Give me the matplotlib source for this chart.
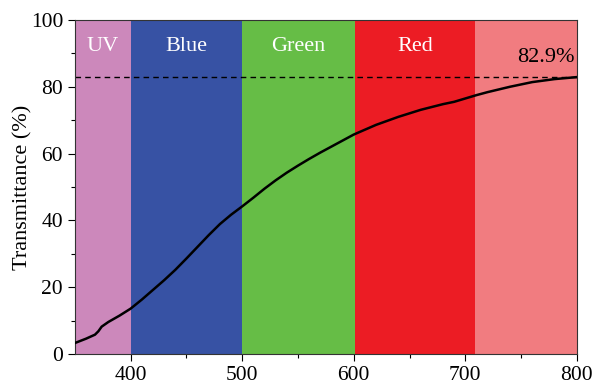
import matplotlib
matplotlib.use("Agg")
import matplotlib.pyplot as plt
import numpy as np

plt.rcParams["font.family"] = ["Liberation Serif", "DejaVu Serif"]

# transmittance curve
wavelength = [350, 360, 368, 371, 374, 380, 390, 400, 410, 420, 430, 440, 450, 460, 470,
              480, 490, 500, 510, 520, 530, 540, 550, 560, 570, 580, 590, 600, 620, 640,
              660, 680, 690, 700, 710, 720, 740, 760, 780, 800]
transmittance = [3.3, 4.6, 5.8, 6.8, 8.2, 9.6, 11.5, 13.6, 16.3, 19.2, 22.1, 25.2, 28.6, 32.1, 35.6,
                 38.9, 41.7, 44.2, 46.8, 49.5, 52.0, 54.3, 56.4, 58.4, 60.3, 62.1, 63.9, 65.7, 68.6, 71.0,
                 73.1, 74.8, 75.5, 76.5, 77.5, 78.4, 80.0, 81.4, 82.3, 82.9]

bands = ["UV", "Blue", "Green", "Red", ""]
band_edges = [350, 400, 500, 601, 709, 800]
band_colors = ["#CC88BB", "#3752A4", "#66BD46", "#EC1C24", "#F17C80"]
peak = 82.9

fig = plt.figure(figsize=(6.04, 3.84), dpi=100)
ax = fig.add_axes([0.124, 0.078, 0.831, 0.870])

for i, name in enumerate(bands):
    lo, hi = band_edges[i], band_edges[i + 1]
    ax.axvspan(lo, hi, color=band_colors[i], lw=0, zorder=0)
    if name:
        ax.text((lo + hi) / 2, 92, name, color="white", fontsize=16,
                ha="center", va="center")

ax.axhline(peak, color="black", ls=(0, (4, 3)), lw=1.0, zorder=2)
ax.plot(wavelength, transmittance, color="black", lw=1.8, zorder=3)
ax.text(772, 88.8, f"{peak}%", fontsize=16, ha="center", va="center")

ax.set_xlim(350, 800)
ax.set_ylim(0, 100)
ax.set_xticks([400, 500, 600, 700, 800])
ax.set_xticks([450, 550, 650, 750], minor=True)
ax.set_yticks([0, 20, 40, 60, 80, 100])
ax.set_yticks([10, 30, 50, 70, 90], minor=True)
ax.tick_params(which="both", direction="out", labelsize=15.5, width=0.8)
ax.tick_params(which="major", length=5)
ax.tick_params(which="minor", length=3)
ax.set_ylabel("Transmittance (%)", fontsize=16, labelpad=-1)
for s in ax.spines.values():
    s.set_linewidth(0.8)
    s.set_color("#333333")

fig.savefig("out.png", dpi=100)
